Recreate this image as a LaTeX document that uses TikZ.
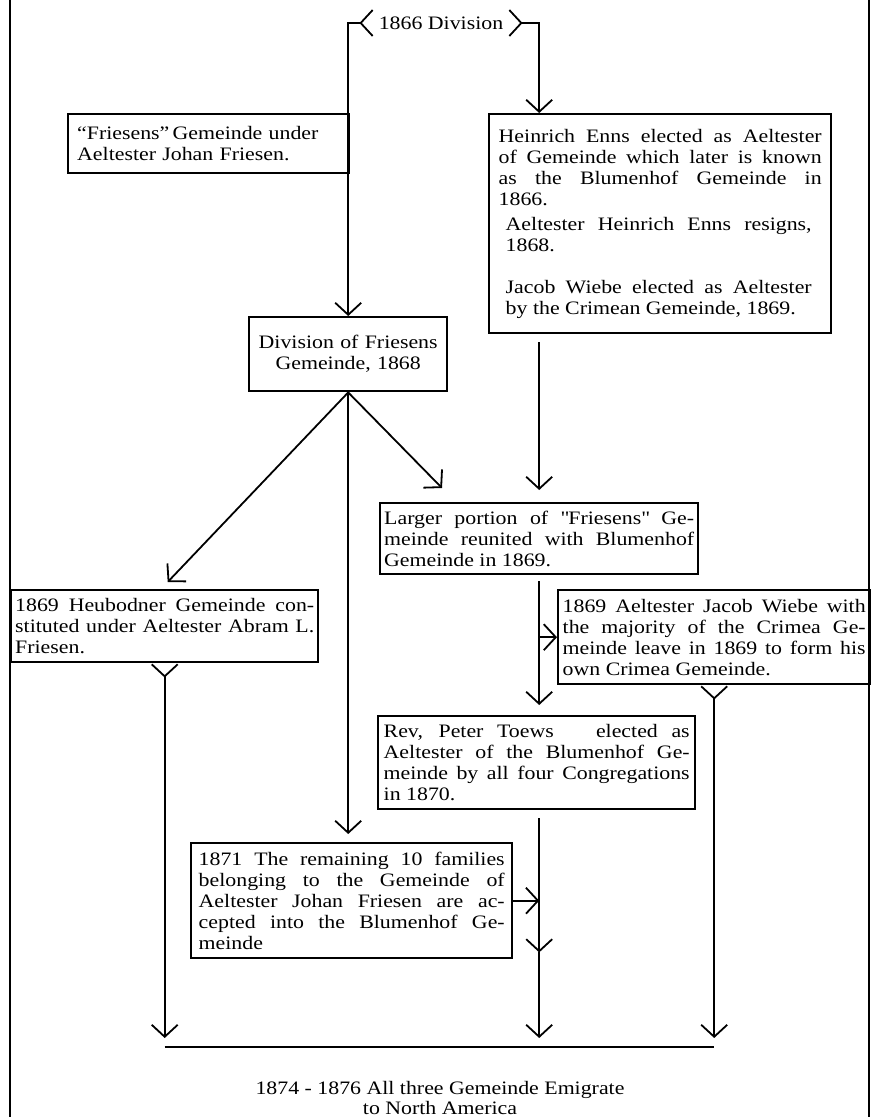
\documentclass[tikz,border=0pt]{standalone}
\usepackage{fontspec}
\setmainfont{Liberation Serif}[FakeStretch=1.15]
\usetikzlibrary{arrows.meta}
\tolerance=10000
\hbadness=10000

\begin{document}
\begin{tikzpicture}[x=1pt,y=-1pt,
    font=\fontsize{19}{21}\selectfont,
    evbox/.style={draw, line width=2.4pt, anchor=north west, align=justify, inner xsep=4pt, inner ysep=3pt},
    link/.style={line width=1.8pt},
    arr/.style={link, -{Straight Barb[length=12pt,width=26pt]}},
    tailarr/.style={link, {Straight Barb[reversed,length=12pt,width=26pt]}-{Straight Barb[length=12pt,width=26pt]}}]
    \useasboundingbox (0,0) rectangle (871,1117);

    \coordinate (T1) at (441, 23);
    \coordinate (F1) at (67, 113);
    \coordinate (D1) at (248, 316);
    \coordinate (E1) at (488, 113);
    \coordinate (L1) at (379, 502);
    \coordinate (H1) at (10, 589);
    \coordinate (W1) at (557, 589);
    \coordinate (R1) at (377, 715);
    \coordinate (J1) at (190, 842);
    \coordinate (B1) at (440, 1047);
    \coordinate (N1) at (440, 1098);

    % frame
    \draw[line width=2.4pt] (10, 0) -- (10, 1117);
    \draw[line width=2.4pt] (869, 0) -- (869, 1117);

%boxes
    \node[inner xsep=5pt] (split) at (T1) {1866 Division};
    \node[evbox, align=left, minimum width=281pt, minimum height=59pt, text width=263pt] (fries) at (F1)
        {``Friesens''\,Gemeinde under\\Aeltester Johan Friesen.};
    \node[evbox, align=center, minimum width=198pt, minimum height=74pt, text width=188pt] (divfr) at (D1)
        {Division of Friesens\\Gemeinde, 1868};
    \node[evbox, minimum width=342pt, minimum height=219pt, text width=323pt] (enns) at (E1)
        {Heinrich Enns elected as Aeltester\linebreak of Gemeinde which later is known\linebreak as the Blumenhof Gemeinde in\linebreak 1866.\par\vspace{4pt}
        {\leftskip=7pt\rightskip=10pt Aeltester Heinrich Enns resigns,\linebreak 1868.\par\vspace{21pt}
        Jacob Wiebe elected as Aeltester\linebreak by the Crimean Gemeinde, 1869.\par}};
    \node[evbox, minimum width=318pt, minimum height=71pt, text width=310pt] (larger) at (L1)
        {Larger portion of \textquotedbl Friesens\textquotedbl\ Ge-\linebreak meinde reunited with Blumenhof\linebreak Gemeinde in 1869.};
    \node[evbox, minimum width=307pt, minimum height=72pt, text width=299pt] (heub) at (H1)
        {1869 Heubodner Gemeinde con-\linebreak stituted under Aeltester Abram L.\linebreak Friesen.};
    \node[evbox, minimum width=312pt, minimum height=94pt, text width=303pt] (wiebe) at (W1)
        {1869 Aeltester Jacob Wiebe with\linebreak the majority of the Crimea Ge-\linebreak meinde leave in 1869 to form his\linebreak own Crimea Gemeinde.};
    \node[evbox, minimum width=317pt, minimum height=93pt, text width=306pt] (toews) at (R1)
        {Rev, Peter Toews\hspace{1.5em} elected as\linebreak Aeltester of the Blumenhof Ge-\linebreak meinde by all four Congregations\linebreak in 1870.};
    \node[evbox, minimum width=321pt, minimum height=115pt, text width=306pt] (fams) at (J1)
        {1871 The remaining 10 families\linebreak belonging to the Gemeinde of\linebreak Aeltester Johan Friesen are ac-\linebreak cepted into the Blumenhof Ge-\linebreak meinde};
    \node[align=center, font=\fontsize{19}{20}\selectfont] (emig) at (N1)
        {1874 - 1876 All three Gemeinde Emigrate\\to North America};

%connectors
    \draw[tailarr] (split.west) -| (divfr.north);
    \draw[tailarr] (split.east) -| (larger.north |- enns.north);
    \draw[arr] ([yshift=-8pt]larger.north |- enns.south) -- ([yshift=12pt]larger.north);

    \draw[arr] (divfr.south) -- ([xshift=3pt,yshift=7pt]heub.north);
    \draw[arr] (divfr.south) -- ([yshift=8pt]divfr.south |- fams.north);
    \draw[arr] (divfr.south) -- ([xshift=63pt,yshift=14pt]larger.north west);

    \draw[arr] ([yshift=-6pt]larger.south) -- ([yshift=10pt]larger.south |- toews.north);
    \draw[arr] (larger.south |- wiebe.west) -- (wiebe.west);

    \coordinate (M1) at ([yshift=7pt]larger.south |- fams.south);
    \draw[arr] ([yshift=-8pt]larger.south |- toews.south) -- (M1);
    \draw[arr] (M1) -- ([yshift=9pt]larger.south |- B1);
    \draw[arr] (fams.east) -- (fams.east -| larger.south);

    \draw[tailarr] (heub.south) -- ([yshift=9pt]heub.south |- B1);
    \draw[tailarr] (wiebe.south) -- ([yshift=9pt]wiebe.south |- B1);
    \draw[link] (heub.south |- B1) -- (wiebe.south |- B1);

\end{tikzpicture}
\end{document}
